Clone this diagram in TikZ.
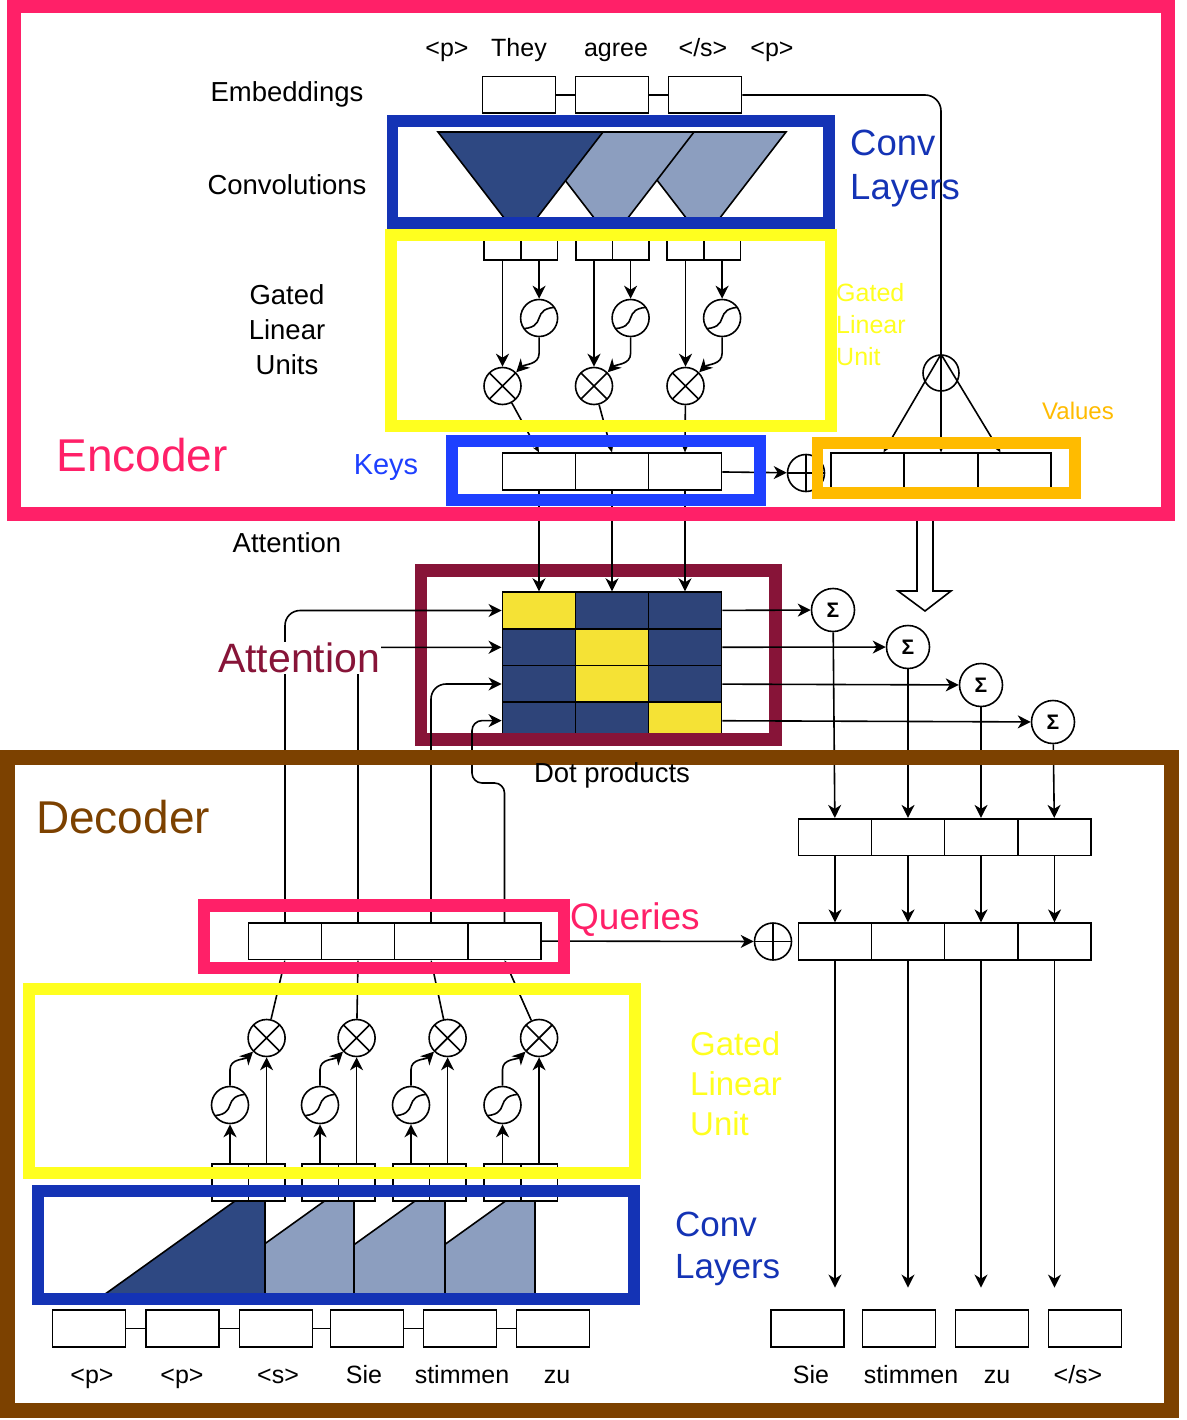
\documentclass[tikz,border=0pt]{standalone}
\usepackage{fontspec}
\setmainfont{Liberation Sans}
\usetikzlibrary{arrows.meta,calc}

\definecolor{encpink}{HTML}{FF2068}
\definecolor{decbrown}{HTML}{7C4100}
\definecolor{convblue}{HTML}{1433B5}
\definecolor{keyblue}{HTML}{1E40FF}
\definecolor{gluyellow}{HTML}{FFFF1F}
\definecolor{valorange}{HTML}{FFBB00}
\definecolor{attmaroon}{HTML}{871438}
\definecolor{attyellow}{HTML}{F5E235}
\definecolor{attnavy}{HTML}{2E4479}
\definecolor{convdark}{HTML}{2E4882}
\definecolor{convlight}{HTML}{8C9EBF}

\tikzset{
  cell/.style={draw, rectangle, fill=white, inner sep=0pt, minimum width=73.3pt, minimum height=36.6pt, line width=1.6pt},
  half/.style={cell, minimum width=36.6pt},
  wire/.style={line width=1.6pt},
  arr/.style={wire, -{Stealth[length=13pt,width=13pt,inset=4pt]}},
  sarr/.style={wire, -{Stealth[length=7pt,width=6pt,inset=2pt]}},
  op/.style={circle, draw, fill=white, inner sep=0pt, minimum size=37pt, line width=1.6pt},
  mul/.style={op, path picture={
      \draw[wire] (path picture bounding box.north west) -- (path picture bounding box.south east)
                  (path picture bounding box.north east) -- (path picture bounding box.south west);}},
  plus/.style={op, path picture={
      \draw[wire] (path picture bounding box.north) -- (path picture bounding box.south)
                  (path picture bounding box.west) -- (path picture bounding box.east);}},
  sig/.style={op, path picture={
      \draw[wire] ($(path picture bounding box.center)+(-22,-11)$) .. controls +(36,0) and +(-36,0) .. ($(path picture bounding box.center)+(22,11)$);}},
  sum/.style={op, minimum size=43pt, font=\fontsize{21}{21}\selectfont\bfseries},
  tok/.style={font=\fontsize{25}{30}\selectfont, anchor=base},
  lab/.style={font=\fontsize{27.5}{35}\selectfont, align=center},
}

\begin{document}
\begin{tikzpicture}[x=1pt, y=1pt]
\useasboundingbox (0,0) rectangle (1186,-1420);

% ---------------- encoder ----------------
\node[tok] (w1) at (447,-57) {<p>};
\node[tok] (w2) at (519,-57) {They};
\node[tok] (w3) at (616,-57) {agree};
\node[tok] (w4) at (703,-57) {</s>};
\node[tok] (w5) at (772,-57) {<p>};

\foreach \i/\x in {1/519,2/612,3/705}
  \node[cell] (e\i) at (\x,-95) {};
\draw[wire] (e1) -- (e2) (e2) -- (e3);

% convolutions
\filldraw[fill=convlight, wire] (620,-132) -- (786,-132) -- (716,-223) -- (690,-223) -- cycle;
\filldraw[fill=convlight, wire] (528,-132) -- (694,-132) -- (624,-223) -- (598,-223) -- cycle;
\filldraw[fill=convdark, wire] (438,-132) -- (603,-132) -- (533,-223) -- (508,-223) -- cycle;

% keys and values
\foreach \i/\x in {1/539,2/612,3/685}
  \node[cell] (k\i) at (\x,-471.5) {};
\foreach \i/\x in {1/867.5,2/941,3/1014.5}
  \node[cell] (v\i) at (\x,-471.5) {};

% gated linear units
\foreach \i/\x in {1/502.5,2/594,3/685.5} {
  \node[half] (ga\i) at (\x,-242) {};
  \node[half] (gb\i) at (\x+36.6,-242) {};
  \node[sig] (s\i) at (\x+36.6,-318) {};
  \node[mul] (m\i) at (\x,-386) {};
  \draw[arr] (ga\i) -- (m\i);
  \draw[arr] (gb\i) -- (s\i);
  \draw[arr] (s\i.south) -- ++(0,-16) to[out=-90,in=45] (m\i.north east);
  \draw[sarr] (m\i) -- (k\i.north);
}

\node[plus] (pe) at (806,-473) {};
\draw[arr] (k3) -- (pe);

\node[op, minimum size=36pt] (lam) at (941,-373) {};
\draw[sarr, rounded corners=16pt] (e3) -- (941,-95) -- (v2.north);
\draw[sarr] (lam.north) -- ([xshift=16pt]v1.north);
\draw[sarr] (lam.north) -- ([xshift=-14pt]v3.north);

\filldraw[fill=white, wire] (917,-514) -- (917,-591) -- (898,-591) -- (925,-611) -- (951,-591) -- (933,-591) -- (933,-514) -- cycle;

% ---------------- attention ----------------
\foreach \r/\y/\h in {1/610.5/1,2/647.3/2,3/684/2,4/720.6/3}
  \foreach \c/\x in {1/539,2/612,3/685} {
    \ifnum\c=\h \def\cc{attyellow}\else\def\cc{attnavy}\fi
    \node[cell, fill=\cc, minimum height=36.8pt] (a\r\c) at (\x,-\y) {};
  }
\draw[attmaroon, line width=12.5pt] (421,-570.5) rectangle (775.5,-739.5);

\foreach \i in {1,2,3}
  \draw[arr] (k\i) -- (a1\i);

\node[sum] (sg1) at (833,-610) {Σ};
\node[sum] (sg2) at (908,-647) {Σ};
\node[sum] (sg3) at (981,-685) {Σ};
\node[sum] (sg4) at (1053,-722) {Σ};
\foreach \r in {1,2,3,4}
  \draw[arr] (a\r3) -- (sg\r);

% ---------------- decoder ----------------
\foreach \i/\x in {1/285,2/358,3/431,4/504.5}
  \node[cell] (q\i) at (\x,-941) {};

\draw[arr, rounded corners=15pt] (q1.north) |- (a11.west);
\draw[arr, rounded corners=15pt] (q2.north) |- (a21.west);
\draw[arr, rounded corners=15pt] (q3.north) |- (a31.west);
\draw[arr, rounded corners=10pt] (q4.north) -- (504.5,-783) -- (472,-783) |- (a41.west);

\node[plus] (pd) at (773,-941.5) {};
\draw[arr] (q4) -- (pd);

\foreach \i/\x in {1/835,2/908,3/981,4/1054.5} {
  \node[cell] (r\i) at (\x,-837) {};
  \node[cell] (o\i) at (\x,-941.5) {};
  \draw[arr] (sg\i) -- (r\i);
  \draw[arr] (r\i) -- (o\i);
  \draw[arr] (o\i.south) -- ++(0,-327);
}

\foreach \i/\x in {1/807.5,2/899,3/992,4/1085}
  \node[cell] (y\i) at (\x,-1328.5) {};
\node[tok] (u1) at (811,-1383) {Sie};
\node[tok] (u2) at (911,-1383) {stimmen};
\node[tok] (u3) at (997,-1383) {zu};
\node[tok] (u4) at (1078,-1383) {</s>};

% decoder convolutions
\filldraw[fill=convlight, wire] (371.5,-1297) -- (505.5,-1201) -- (535,-1201) -- (535,-1297) -- cycle;
\filldraw[fill=convlight, wire] (281,-1297) -- (415,-1201) -- (445,-1201) -- (445,-1297) -- cycle;
\filldraw[fill=convlight, wire] (190.5,-1297) -- (324.5,-1201) -- (354,-1201) -- (354,-1297) -- cycle;
\filldraw[fill=convdark, wire] (101,-1297) -- (235,-1201) -- (265,-1201) -- (265,-1297) -- cycle;

% decoder gated linear units
\foreach \i/\x in {1/230,2/320,3/411,4/502.5} {
  \node[half] (da\i) at (\x,-1182.5) {};
  \node[half] (db\i) at (\x+36.6,-1182.5) {};
  \node[sig] (ds\i) at (\x,-1105) {};
  \node[mul] (dm\i) at (\x+36.6,-1038) {};
  \draw[arr] (da\i) -- (ds\i);
  \draw[arr] (db\i) -- (dm\i);
  \draw[arr] (ds\i.north) -- ++(0,16) to[out=90,in=-135] (dm\i.south west);
  \draw[sarr] (dm\i) -- (q\i.south);
}

\foreach \i/\x in {1/89,2/182.5,3/276,4/367,5/460,6/553}
  \node[cell] (b\i) at (\x,-1328.5) {};
\draw[wire] (b1) -- (b2) (b2) -- (b3) (b3) -- (b4) (b4) -- (b5) (b5) -- (b6);
\node[tok] (d1) at (92,-1383) {<p>};
\node[tok] (d2) at (182,-1383) {<p>};
\node[tok] (d3) at (278,-1383) {<s>};
\node[tok] (d4) at (364,-1383) {Sie};
\node[tok] (d5) at (462,-1383) {stimmen};
\node[tok] (d6) at (557,-1383) {zu};

% ---------------- frames ----------------
\draw[encpink, line width=14pt] (14,-6) rectangle (1168,-514);
\draw[convblue, line width=11.5pt] (392.5,-121) rectangle (829,-223);
\draw[gluyellow, line width=12pt] (390.5,-235) rectangle (830.5,-426);
\draw[keyblue, line width=12pt] (452,-441) rectangle (760,-499.5);
\draw[valorange, line width=11.5pt] (817.5,-443) rectangle (1075,-493);
\draw[decbrown, line width=15pt] (7,-757) rectangle (1171,-1410);
\draw[encpink, line width=12.5pt] (204,-905.5) rectangle (564,-968);
\draw[gluyellow, line width=12pt] (29,-989) rectangle (635,-1173);
\draw[convblue, line width=12pt] (38,-1191) rectangle (634,-1298.5);

% ---------------- labels ----------------
\node[lab] (lemb) at (287,-94) {Embeddings};
\node[lab] (lconv) at (287,-185) {Convolutions};
\node[lab] (lglu) at (287,-330) {Gated\\Linear\\Units};
\node[lab] (latt) at (287,-543) {Attention};
\node[lab] (ldot) at (612,-775) {Dot products};

\node[text=encpink, font=\fontsize{46}{50}\selectfont] (lenc) at (142,-455) {Encoder};
\node[text=decbrown, font=\fontsize{46}{50}\selectfont] (ldec) at (123,-817) {Decoder};
\node[text=keyblue, font=\fontsize{29}{34}\selectfont] (lkeys) at (386,-468) {Keys};
\node[text=valorange, font=\fontsize{24}{28}\selectfont] (lval) at (1078,-411) {Values};
\node[text=convblue, font=\fontsize{36.5}{44}\selectfont, align=left, anchor=west, inner sep=0pt] (lecl) at (850,-169) {Conv\\Layers};
\node[text=gluyellow, font=\fontsize{25}{32}\selectfont, align=left, anchor=west, inner sep=0pt] (legl) at (836,-325) {Gated\\Linear\\Unit};
\node[text=attmaroon, fill=white, inner sep=1pt, font=\fontsize{41}{46}\selectfont] (lattn) at (299,-658) {Attention};
\node[text=encpink, anchor=west, inner sep=0pt, font=\fontsize{37}{42}\selectfont] (lq) at (570,-920) {Queries};
\node[text=gluyellow, font=\fontsize{33}{40}\selectfont, align=left, anchor=west, inner sep=0pt] (ldgl) at (690,-1084) {Gated\\Linear\\Unit};
\node[text=convblue, font=\fontsize{35}{42}\selectfont, align=left, anchor=west, inner sep=0pt] (ldcl) at (675,-1249) {Conv\\Layers};
\end{tikzpicture}
\end{document}
